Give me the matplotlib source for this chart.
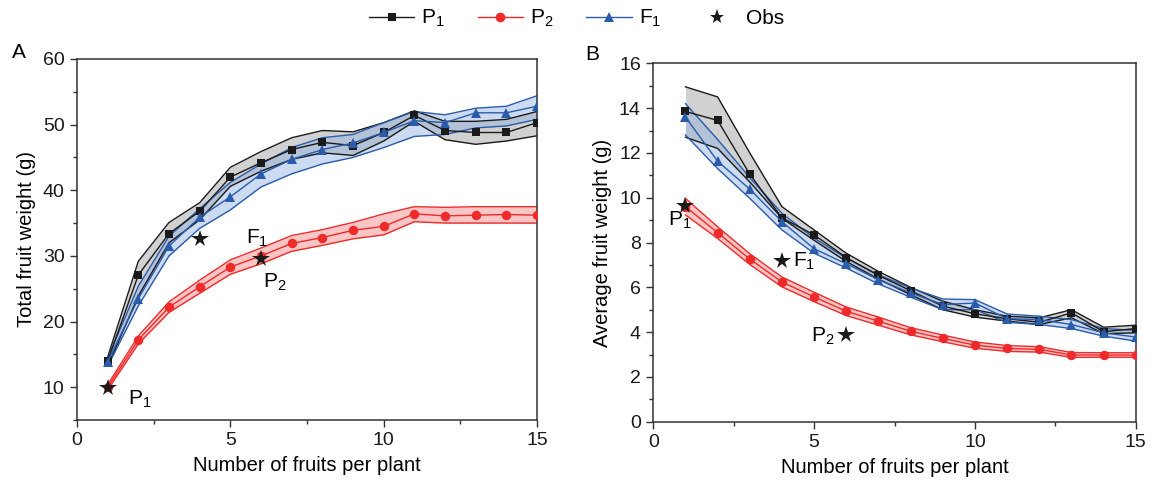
import matplotlib
matplotlib.use("Agg")
import matplotlib.pyplot as plt
from matplotlib.lines import Line2D
from matplotlib.ticker import MultipleLocator

plt.rcParams['font.family'] = ['Liberation Sans', 'DejaVu Sans']
plt.rcParams['mathtext.default'] = 'regular'

n_fruits = list(range(1, 16))

# panel A: total fruit weight (g)
total_p1 = [14.0, 27.1, 33.4, 36.8, 42.0, 44.2, 46.2, 47.3, 46.8, 48.8, 51.4, 49.1, 48.8, 48.8, 50.3]
total_p1_hi = [14.6, 29.2, 35.1, 38.1, 43.5, 45.9, 48.0, 49.1, 48.9, 50.3, 52.1, 50.5, 50.5, 50.8, 52.0]
total_p1_lo = [13.2, 23.9, 32.0, 35.5, 40.6, 42.9, 44.7, 45.7, 45.3, 47.5, 50.5, 47.7, 47.0, 47.5, 48.3]
total_p2 = [10.0, 17.2, 22.2, 25.3, 28.3, 30.0, 31.9, 32.8, 33.9, 34.5, 36.4, 36.1, 36.2, 36.3, 36.2]
total_p2_hi = [10.4, 17.8, 23.0, 26.3, 29.4, 31.2, 33.1, 34.0, 35.1, 36.4, 37.5, 37.4, 37.5, 37.5, 37.5]
total_p2_lo = [9.6, 16.6, 21.4, 24.3, 27.2, 28.8, 30.7, 31.6, 32.6, 33.2, 35.2, 35.0, 35.0, 35.0, 35.0]
total_f1 = [13.9, 23.5, 31.5, 35.9, 39.0, 42.5, 44.7, 46.2, 47.2, 48.8, 50.6, 50.3, 51.8, 51.8, 52.8]
total_f1_hi = [14.4, 25.4, 33.0, 37.2, 41.2, 44.0, 46.5, 48.0, 48.5, 50.3, 52.0, 51.5, 52.5, 52.8, 54.4]
total_f1_lo = [13.2, 22.4, 30.0, 34.2, 37.0, 40.5, 42.5, 44.0, 45.0, 46.5, 48.2, 48.5, 49.5, 49.8, 50.8]
total_obs_x = [1, 4, 6]
total_obs_y = [9.9, 32.5, 29.5]

# panel B: average fruit weight (g)
avg_p1 = [13.85, 13.45, 11.05, 9.1, 8.34, 7.33, 6.53, 5.85, 5.16, 4.82, 4.6, 4.44, 4.86, 4.02, 4.16]
avg_p1_hi = [14.95, 14.5, 12.0, 9.6, 8.56, 7.52, 6.71, 6.0, 5.38, 5.0, 4.71, 4.64, 5.0, 4.22, 4.31]
avg_p1_lo = [12.7, 12.2, 10.7, 9.08, 8.1, 7.15, 6.37, 5.67, 5.0, 4.67, 4.49, 4.34, 4.64, 3.93, 3.97]
avg_p2 = [9.6, 8.44, 7.26, 6.24, 5.57, 4.93, 4.49, 4.04, 3.72, 3.42, 3.27, 3.23, 2.98, 2.98, 2.98]
avg_p2_hi = [9.97, 8.7, 7.5, 6.46, 5.78, 5.12, 4.67, 4.2, 3.87, 3.56, 3.4, 3.35, 3.09, 3.08, 3.08]
avg_p2_lo = [9.23, 8.18, 7.02, 6.02, 5.36, 4.74, 4.31, 3.88, 3.57, 3.28, 3.14, 3.11, 2.87, 2.88, 2.88]
avg_f1 = [13.6, 11.63, 10.38, 8.93, 7.72, 7.05, 6.34, 5.75, 5.23, 5.3, 4.6, 4.56, 4.34, 3.97, 3.78]
avg_f1_hi = [14.2, 12.6, 10.9, 9.3, 8.2, 7.3, 6.56, 5.97, 5.48, 5.45, 4.81, 4.71, 4.56, 4.16, 4.08]
avg_f1_lo = [12.8, 11.3, 9.97, 8.56, 7.52, 6.86, 6.15, 5.56, 5.0, 5.0, 4.44, 4.34, 4.16, 3.82, 3.6]
avg_obs_x = [1, 4, 6]
avg_obs_y = [9.65, 7.16, 3.88]

BLACK = '#1a1a1a'
RED = '#ee2a2a'
BLUE = '#2a5caa'

fig = plt.figure(figsize=(11.53, 4.87), dpi=100)
axA = fig.add_axes([0.0668, 0.1376, 0.3990, 0.7413])
axB = fig.add_axes([0.5666, 0.1340, 0.4185, 0.7360])


def draw_series(ax, y, hi, lo, color, fill, alpha, marker, ms):
    ax.fill_between(n_fruits, lo, hi, color=fill, alpha=alpha, lw=0, zorder=1)
    ax.plot(n_fruits, hi, color=color, lw=1.0, zorder=2)
    ax.plot(n_fruits, lo, color=color, lw=1.0, zorder=2)
    ax.plot(n_fruits, y, color=color, lw=1.0, marker=marker, ms=ms,
            markeredgewidth=0, zorder=3)


for ax, data in [
    (axA, [(total_p1, total_p1_hi, total_p1_lo), (total_p2, total_p2_hi, total_p2_lo),
           (total_f1, total_f1_hi, total_f1_lo)]),
    (axB, [(avg_p1, avg_p1_hi, avg_p1_lo), (avg_p2, avg_p2_hi, avg_p2_lo),
           (avg_f1, avg_f1_hi, avg_f1_lo)]),
]:
    draw_series(ax, *data[0], BLACK, '#9a9a9a', 0.45, 's', 6)
    draw_series(ax, *data[1], RED, '#f28080', 0.45, 'o', 6.8)
    draw_series(ax, *data[2], BLUE, '#8fb0e0', 0.45, '^', 7)

axA.plot(total_obs_x, total_obs_y, ls='none', marker='*', ms=13, color=BLACK,
         markeredgewidth=0, zorder=5)
axB.plot(avg_obs_x, avg_obs_y, ls='none', marker='*', ms=13, color=BLACK,
         markeredgewidth=0, zorder=5)

# annotations
fs = 15
axA.text(1.65, 8.2, 'P$_1$', fontsize=fs, ha='left', va='center')
axA.text(5.5, 32.6, 'F$_1$', fontsize=fs, ha='left', va='center')
axA.text(6.05, 25.9, 'P$_2$', fontsize=fs, ha='left', va='center')
axB.text(0.45, 9.0, 'P$_1$', fontsize=fs, ha='left', va='center')
axB.text(4.35, 7.15, 'F$_1$', fontsize=fs, ha='left', va='center')
axB.text(4.9, 3.8, 'P$_2$', fontsize=fs, ha='left', va='center')

axA.set_xlim(0, 15)
axA.set_ylim(5, 60)
axA.xaxis.set_major_locator(MultipleLocator(5))
axA.xaxis.set_minor_locator(MultipleLocator(2.5))
axA.yaxis.set_major_locator(MultipleLocator(10))
axA.yaxis.set_minor_locator(MultipleLocator(5))
axA.set_ylabel('Total fruit weight (g)', fontsize=14.5, labelpad=5)

axB.set_xlim(0, 15)
axB.set_ylim(0, 16)
axB.xaxis.set_major_locator(MultipleLocator(5))
axB.xaxis.set_minor_locator(MultipleLocator(2.5))
axB.yaxis.set_major_locator(MultipleLocator(2))
axB.yaxis.set_minor_locator(MultipleLocator(1))
axB.set_ylabel('Average fruit weight (g)', fontsize=14.5, labelpad=5)

for ax in (axA, axB):
    ax.set_xlabel('Number of fruits per plant', fontsize=14.5, labelpad=5)
    ax.tick_params(which='major', direction='out', length=5, width=1, labelsize=14,
                   color='#333333', labelcolor='#1a1a1a', pad=4)
    ax.tick_params(which='minor', direction='out', length=3, width=1, color='#333333')
    for s in ax.spines.values():
        s.set_color('#333333')
        s.set_linewidth(1.1)

fig.text(0.010, 0.892, 'A', fontsize=15, ha='left', va='center')
fig.text(0.508, 0.889, 'B', fontsize=15, ha='left', va='center')

handles = [
    Line2D([], [], color=BLACK, lw=1.0, marker='s', ms=6, markeredgewidth=0),
    Line2D([], [], color=RED, lw=1.0, marker='o', ms=7, markeredgewidth=0),
    Line2D([], [], color=BLUE, lw=1.0, marker='^', ms=7, markeredgewidth=0),
    Line2D([], [], color=BLACK, ls='none', marker='*', ms=11, markeredgewidth=0),
]
fig.legend(handles, ['P$_1$', 'P$_2$', 'F$_1$', 'Obs'], loc='center', ncol=4,
           bbox_to_anchor=(0.5, 0.962), frameon=False, fontsize=15,
           handlelength=2.2, handletextpad=0.3, columnspacing=1.6)

fig.savefig('out.png', dpi=100)
